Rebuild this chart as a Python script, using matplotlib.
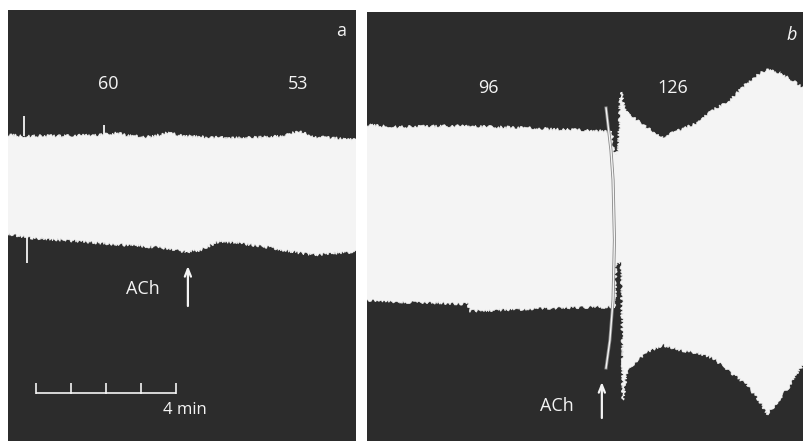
import matplotlib
matplotlib.use("Agg")
import matplotlib.pyplot as plt
import matplotlib.patheffects as pe
from matplotlib.patches import Polygon
import numpy as np

# ---------------- data (time in min, pen position in px from top) -------------
# Panel a
a_t_upper = [0.0, 0.06, 0.40, 0.71, 1.49, 2.63, 3.11, 3.49, 4.06, 4.54, 5.06, 5.49,
             6.43, 7.40, 7.91, 8.14, 8.34, 8.83, 9.29, 9.94]
a_upper = [135, 135, 136, 136, 136, 135, 133, 136, 137, 133, 136, 137,
           138, 137, 136, 133, 132, 137, 138, 140]
a_t_lower = [0.0, 0.71, 1.49, 2.63, 3.77, 4.54, 5.11, 5.49, 5.97, 6.43, 7.40, 8.34,
             8.83, 9.29, 9.94]
a_lower = [234, 238, 240, 243, 246, 248, 252, 250, 242, 242, 247, 253, 255, 253, 252]
a_spikes_t = [0.46, 2.74, 0.54]
a_spikes_from = [136, 136, 236]
a_spikes_to = [116, 125, 263]
a_labels = ["60", "53"]
a_labels_t = [2.86, 8.29]

# Panel b
b_t_upper = [0.0, 0.94, 2.37, 3.80, 5.23, 6.66, 6.99, 7.03, 7.07, 7.14, 7.19, 7.23,
             7.26, 7.31, 7.43, 8.00, 8.46, 8.94, 9.43, 9.89, 10.37, 10.86, 11.14,
             11.43, 11.80, 12.49]
b_upper = [125, 127, 126, 127, 129, 131, 132, 145, 154, 154, 140, 100,
           92, 100, 113, 128, 137, 130, 123, 110, 100, 83, 75,
           70, 73, 88]
b_t_lower = [0.0, 0.94, 2.09, 2.89, 2.94, 3.80, 5.23, 6.66, 7.00, 7.09, 7.11, 7.23,
             7.27, 7.31, 7.43, 7.66, 8.00, 8.46, 8.94, 9.43, 9.89, 10.37, 10.86,
             11.23, 11.43, 11.66, 12.09, 12.49]
b_lower = [300, 302, 303, 304, 311, 310, 308, 307, 307, 308, 264, 262,
           270, 400, 372, 362, 352, 345, 350, 353, 358, 372, 385,
           402, 414, 405, 385, 363]
b_marker_t = [6.83, 6.97, 7.03, 7.07, 7.03, 6.94, 6.83]
b_marker_y = [108, 150, 180, 240, 300, 340, 368]
b_labels = ["96", "126"]
b_labels_t = [3.46, 8.74]

scale_minutes = 4

# ---------------- drawing -----------------------------------------------------
W, H = 804, 441
DARK = "#2c2c2c"
WHITE = "#f4f4f4"
FONT = "Open Sans"

fig = plt.figure(figsize=(W / 100, H / 100), dpi=100)
fig.patch.set_facecolor("white")

PX_PER_MIN = 35.0


def make_panel(x0, x1, ytop):
    ax = fig.add_axes([x0 / W, 0, (x1 - x0) / W, (H - ytop) / H])
    ax.set_facecolor(DARK)
    ax.set_xlim(0, (x1 - x0) / PX_PER_MIN)
    ax.set_ylim(H, ytop)
    ax.set_axis_off()
    ax.add_patch(plt.Rectangle((0, 0), 1, 1, transform=ax.transAxes,
                               facecolor=DARK, edgecolor="none", zorder=0))
    return ax


def envelope(ax, tu, yu, tl, yl):
    ts = np.array(sorted(set(tu) | set(tl)))
    fine = np.unique(np.concatenate([ts, np.linspace(ts[0], ts[-1], 400)]))
    up = np.interp(fine, tu, yu)
    lo = np.interp(fine, tl, yl)
    x0, x1 = ax.get_xlim()
    xs = np.concatenate([[x0 - 1], fine, [x1 + 1], [x1 + 1], fine[::-1], [x0 - 1]])
    ys = np.concatenate([[up[0]], up, [up[-1]], [lo[-1]], lo[::-1], [lo[0]]])
    poly = Polygon(np.column_stack([xs, ys]), closed=True, facecolor=WHITE,
                   edgecolor=WHITE, linewidth=0.5, zorder=2)
    poly.set_sketch_params(scale=1.4, length=2.5, randomness=8)
    ax.add_patch(poly)
    return poly


ARROW = dict(arrowstyle="->,head_length=0.55,head_width=0.22",
             color=WHITE, lw=1.6, shrinkA=0, shrinkB=0)

# Panel a
axa = make_panel(8, 356, 10)
envelope(axa, a_t_upper, a_upper, a_t_lower, a_lower)
axa.vlines(a_spikes_t, a_spikes_from, a_spikes_to, color=WHITE, lw=1.3, zorder=3)
for lab, t in zip(a_labels, a_labels_t):
    axa.text(t, 84, lab, color=WHITE, fontsize=13, family=FONT,
             ha="center", va="center")
axa.text(9.51, 31, "a", color=WHITE, fontsize=13, family=FONT,
         ha="center", va="center")
axa.text(3.86, 289, "ACh", color=WHITE, fontsize=13, family=FONT,
         ha="center", va="center")
axa.annotate("", xy=(5.14, 266), xytext=(5.14, 306), arrowprops=ARROW)
# scale bar
sb0 = 0.8
axa.plot([sb0, sb0 + scale_minutes], [393, 393], color=WHITE, lw=1.2,
         solid_capstyle="butt", zorder=3)
axa.vlines([sb0 + i for i in range(scale_minutes + 1)], 393.5, 383,
           color=WHITE, lw=1.2, zorder=3)
axa.text(sb0 + scale_minutes + 0.25, 410, f"{scale_minutes} min", color=WHITE,
         fontsize=12, family=FONT, ha="center", va="center")

# Panel b
axb = make_panel(367, 804, 12)
envelope(axb, b_t_upper, b_upper, b_t_lower, b_lower)
axb.plot(b_marker_t, b_marker_y, color=WHITE, lw=1.0, zorder=4,
         path_effects=[pe.Stroke(linewidth=2.2, foreground="#888888"), pe.Normal()])
for lab, t in zip(b_labels, b_labels_t):
    axb.text(t, 88, lab, color=WHITE, fontsize=13, family=FONT,
             ha="center", va="center")
axb.text(12.14, 35, "b", color=WHITE, fontsize=13, family=FONT,
         style="italic", ha="center", va="center")
axb.text(5.43, 406, "ACh", color=WHITE, fontsize=13, family=FONT,
         ha="center", va="center")
axb.annotate("", xy=(6.71, 382), xytext=(6.71, 418), arrowprops=ARROW)

fig.savefig("out.png", dpi=100, facecolor="white")
